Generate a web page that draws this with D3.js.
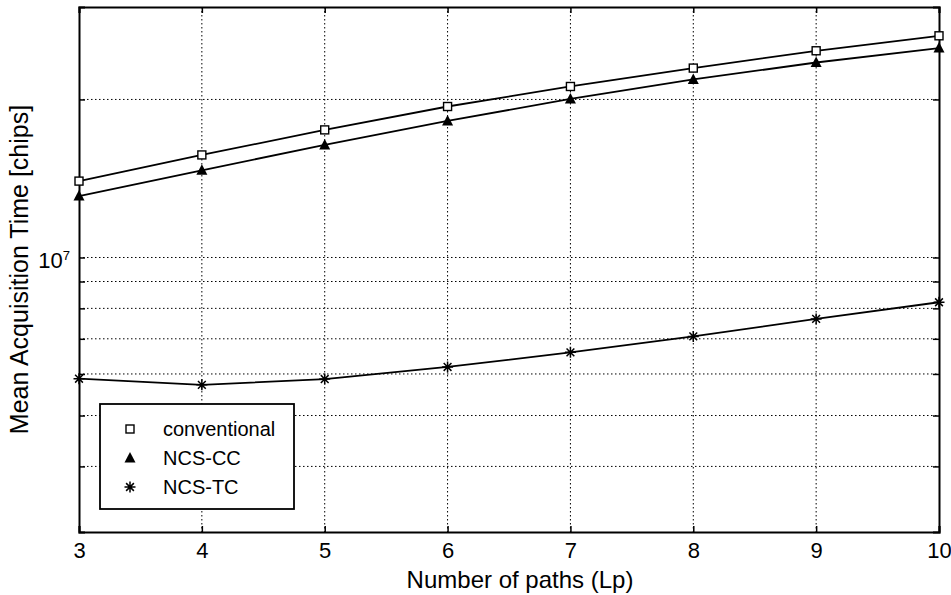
<!DOCTYPE html>
<html>
<head>
<meta charset="utf-8">
<script src="https://cdn.jsdelivr.net/npm/d3@7/dist/d3.min.js"></script>
<style>
  html, body { margin: 0; padding: 0; background: #fff; }
  svg { display: block; font-family: "Liberation Sans", Arial, sans-serif; }
</style>
</head>
<body>
<svg id="chart" width="951" height="595"></svg>
<script>
// Number of paths on the x axis
const paths = [3, 4, 5, 6, 7, 8, 9, 10];

// Mean acquisition time in chips for each scheme
const conventional = [1.398e7, 1.568e7, 1.750e7, 1.939e7, 2.117e7, 2.295e7, 2.476e7, 2.644e7];
const ncsCC        = [1.309e7, 1.466e7, 1.638e7, 1.820e7, 2.005e7, 2.183e7, 2.352e7, 2.506e7];
const ncsTC        = [5.876e6, 5.720e6, 5.868e6, 6.187e6, 6.596e6, 7.075e6, 7.638e6, 8.218e6];

const seriesNames = ["conventional", "NCS-CC", "NCS-TC"];
const seriesMarkers = ["square", "triangle", "star"];

// Log-scale grid values and the single labelled decade
const yGridValues = [4e6, 5e6, 6e6, 7e6, 8e6, 9e6, 1e7, 2e7];
const yLabelValues = [1e7];
const xTickValues = [3, 4, 5, 6, 7, 8, 9, 10];

const svg = d3.select("#chart");
const margin = { left: 79, right: 12, top: 7, bottom: 63 };
const W = 951, H = 595;
const x0 = margin.left, x1 = W - margin.right, y0 = margin.top, y1 = H - margin.bottom;

const x = d3.scaleLinear().domain([3, 10]).range([x0, x1]);
const y = d3.scaleLog().domain([3e6, 3e7]).range([y1, y0]);

// Dotted grid
const grid = svg.append("g").attr("stroke", "#000").attr("stroke-width", 1)
  .attr("stroke-dasharray", "1.5,2.5");
grid.selectAll("line.gx").data(xTickValues.slice(1, -1)).enter().append("line")
  .attr("x1", d => x(d)).attr("x2", d => x(d)).attr("y1", y0).attr("y2", y1);
grid.selectAll("line.gy").data(yGridValues).enter().append("line")
  .attr("x1", x0).attr("x2", x1).attr("y1", d => y(d)).attr("y2", d => y(d));

// Axes (ticks inward on all four sides)
const axB = d3.axisBottom(x).tickValues(xTickValues).tickSize(-6).tickPadding(10).tickFormat(d3.format("d"));
const axT = d3.axisTop(x).tickValues(xTickValues).tickSize(-6).tickFormat("");
const axL = d3.axisLeft(y).tickValues(yGridValues).tickSize(-6).tickFormat("");
const axR = d3.axisRight(y).tickValues(yGridValues).tickSize(-6).tickFormat("");

function styleAxis(g) {
  g.attr("font-size", null).attr("font-family", null);
  g.select(".domain").attr("stroke", "#000").attr("stroke-width", 2);
  g.selectAll(".tick line").attr("stroke", "#000").attr("stroke-width", 1.5);
  g.selectAll(".tick text").attr("fill", "#000").style("font-size", "22px");
}
svg.append("g").attr("transform", `translate(0,${y1})`).call(axB).call(styleAxis);
svg.append("g").attr("transform", `translate(0,${y0})`).call(axT).call(styleAxis);
svg.append("g").attr("transform", `translate(${x0},0)`).call(axL).call(styleAxis);
svg.append("g").attr("transform", `translate(${x1},0)`).call(axR).call(styleAxis);

// Decade label 10^7
yLabelValues.forEach(v => {
  const t = svg.append("text").attr("x", x0 - 9).attr("y", y(v) + 11)
    .attr("text-anchor", "end").style("font-size", "22px").attr("fill", "#000");
  t.append("tspan").text("10");
  t.append("tspan").attr("dy", -8).style("font-size", "13px").text(Math.round(Math.log10(v)));
});

// Axis titles
svg.append("text").attr("x", 520).attr("y", 588).attr("text-anchor", "middle")
  .style("font-size", "24px").attr("fill", "#000").text("Number of paths (Lp)");
svg.append("text").attr("transform", `translate(28,${(y0 + y1) / 2}) rotate(-90)`)
  .attr("text-anchor", "middle").style("font-size", "25px").attr("fill", "#000")
  .text("Mean Acquisition Time [chips]");

// Marker drawing
function drawMarker(g, type, cx, cy) {
  if (type === "square") {
    g.append("rect").attr("x", cx - 4).attr("y", cy - 4).attr("width", 8).attr("height", 8)
      .attr("fill", "#fff").attr("stroke", "#000").attr("stroke-width", 1.4);
  } else if (type === "triangle") {
    g.append("path").attr("d", `M${cx},${cy - 6}L${cx + 5.5},${cy + 4.5}L${cx - 5.5},${cy + 4.5}Z`)
      .attr("fill", "#000");
  } else {
    const r = 5.5;
    const p = [];
    for (let k = 0; k < 4; k++) {
      const a = k * Math.PI / 4;
      p.push(`M${cx - r * Math.cos(a)},${cy - r * Math.sin(a)}L${cx + r * Math.cos(a)},${cy + r * Math.sin(a)}`);
    }
    g.append("path").attr("d", p.join("")).attr("stroke", "#000").attr("stroke-width", 1.5).attr("fill", "none");
  }
}

const allSeries = [conventional, ncsCC, ncsTC];
const line = d3.line().x((d, i) => x(paths[i])).y(d => y(d));
allSeries.forEach((vals, si) => {
  const g = svg.append("g");
  g.append("path").datum(vals).attr("d", line).attr("fill", "none")
    .attr("stroke", "#000").attr("stroke-width", 1.8);
  vals.forEach((v, i) => drawMarker(g, seriesMarkers[si], x(paths[i]), y(v)));
});

// Legend
const lg = svg.append("g");
lg.append("rect").attr("x", 100).attr("y", 404).attr("width", 194).attr("height", 105)
  .attr("fill", "#fff").attr("stroke", "#000").attr("stroke-width", 1.8);
seriesNames.forEach((name, i) => {
  const cy = 429 + i * 29;
  drawMarker(lg, seriesMarkers[i], 130, cy);
  lg.append("text").attr("x", 163).attr("y", cy + 7).style("font-size", "20px").attr("fill", "#000").text(name);
});
</script>
</body>
</html>
